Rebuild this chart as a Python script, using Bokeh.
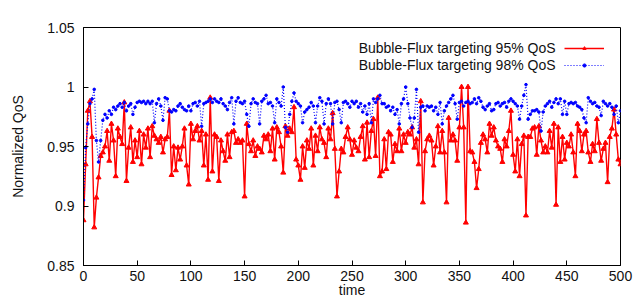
from bokeh.plotting import figure
from bokeh.models import (Range1d, FixedTicker, CustomJSTickFormatter, Legend,
                          LegendItem, Label)
from bokeh.embed import file_html
from bokeh.resources import INLINE

# ---- data ----
time = list(range(0, 501, 2))

qos95 = [
    0.888, 0.935, 0.980, 0.988, 0.958, 0.882, 0.907, 0.924, 0.942, 0.945,
    0.950, 0.963, 0.938, 0.969, 0.955, 0.925, 0.965, 0.958, 0.952, 0.987,
    0.921, 0.949, 0.966, 0.937, 0.955, 0.941, 0.963, 0.935, 0.960, 0.949,
    0.965, 0.941, 0.967, 0.959, 0.956, 0.953, 0.958, 0.945, 0.956, 0.958,
    0.980, 0.926, 0.950,
    0.930, 0.949, 0.939, 0.950, 0.965, 0.934, 0.918, 0.969, 0.956, 0.963,
    0.967, 0.955, 0.963, 0.934, 0.960, 0.922, 0.991, 0.929, 0.960, 0.958,
    0.921, 0.955, 0.946, 0.938, 0.960, 0.941, 0.962, 0.963, 0.953, 0.956,
    0.953, 0.955, 0.908, 0.969, 0.952, 0.946, 0.955, 0.942, 0.950, 0.948,
    0.945, 0.959,
    0.956, 0.960, 0.946, 0.965, 0.939, 0.966, 0.962, 0.950, 0.928, 0.967,
    0.959, 0.965, 0.962, 0.983, 0.939, 0.934, 0.922, 0.950, 0.932, 0.955,
    0.948, 0.965, 0.934, 0.959, 0.946, 0.966, 0.956, 0.953, 0.941, 0.965,
    0.956, 0.978, 0.948, 0.908, 0.929, 0.948, 0.945, 0.958, 0.966, 0.956,
    0.943,
    0.955, 0.949, 0.946, 0.958, 0.967, 0.939, 0.970, 0.941, 0.963, 0.973,
    0.942, 0.991, 0.925, 0.929, 0.956, 0.931, 0.962, 0.960, 0.937, 0.952,
    0.946, 0.965, 0.946, 0.960, 0.953, 0.962, 0.960, 0.966, 0.949, 0.956,
    0.935, 0.988, 0.903, 0.946, 0.956, 0.959, 0.955, 0.934, 0.950, 0.967,
    0.945, 0.963,
    0.945, 0.903, 0.974, 0.955, 0.960, 0.955, 0.938, 0.966, 1.000, 0.966,
    0.886, 1.000, 0.946, 0.945, 0.937, 0.915, 0.931, 0.953, 0.960, 0.956,
    0.945, 0.969, 0.959, 0.966, 0.955, 0.950, 0.948, 0.937, 0.956, 0.950,
    0.963, 0.980, 0.943, 0.929, 0.956, 0.925, 0.952, 0.959, 0.892, 0.958,
    0.958, 0.965,
    0.966, 0.943, 0.967, 0.955, 0.945, 0.950, 0.945, 0.963, 0.949, 0.969,
    0.901, 0.966, 0.937, 0.958, 0.939, 0.953, 0.950, 0.960, 0.945, 0.925,
    0.969, 0.963, 0.946, 0.960, 0.963, 0.945, 0.937, 0.952, 0.946, 0.973,
    0.953, 0.938, 0.948, 0.953, 0.920, 0.958, 0.965, 0.981, 0.960, 0.939,
    0.935,
]

qos98 = [
    0.905, 0.949, 0.969, 0.986, 0.990, 0.998, 0.955, 0.937, 0.955, 0.972,
    0.977, 0.974, 0.980, 0.977, 0.983, 0.981, 0.984, 0.986, 0.983, 0.987,
    0.980, 0.984, 0.986, 0.977, 0.983, 0.987, 0.988, 0.987, 0.988, 0.986,
    0.988, 0.986, 0.988, 0.970, 0.986, 0.990, 0.984, 0.972, 0.991, 0.990,
    0.980, 0.979, 0.981,
    0.980, 0.984, 0.986, 0.983, 0.981, 0.980, 0.984, 0.980, 0.986, 0.987,
    0.984, 0.988, 0.967, 0.986, 0.987, 0.988, 0.990, 0.987, 0.990, 0.988,
    0.987, 0.990, 0.986, 0.984, 0.981, 0.987, 0.991, 0.969, 0.988, 0.991,
    0.987, 0.986, 0.988, 0.977, 0.967, 0.986, 0.990, 0.987, 0.986, 0.969,
    0.988, 0.990,
    0.993, 0.986, 0.987, 0.984, 0.970, 0.990, 0.987, 0.984, 1.000, 0.966,
    0.962, 0.977, 0.988, 0.995, 0.988, 0.986, 0.984, 0.970, 0.979, 0.981,
    0.983, 0.987, 0.984, 0.970, 0.984, 0.991, 0.988, 0.969, 0.986, 0.990,
    0.986, 0.969, 0.987, 0.988, 0.981, 0.970, 0.987, 0.988, 0.986, 0.983,
    0.988,
    0.986, 0.988, 0.983, 0.986, 0.979, 0.984, 0.977, 0.986, 0.970, 0.990,
    0.987, 0.990, 0.993, 0.986, 0.986, 0.983, 0.984, 0.980, 0.983, 0.977,
    0.981, 0.969, 0.986, 0.990, 1.000, 0.986, 0.974, 0.966, 0.974, 0.998,
    0.962, 0.983, 0.984, 0.980, 0.984, 0.983, 0.984, 0.980, 0.983, 0.977,
    0.987, 0.969,
    0.980, 0.984, 0.987, 0.990, 0.993, 0.986, 0.973, 0.987, 0.988, 0.984,
    0.987, 0.988, 0.986, 0.987, 0.990, 0.986, 0.991, 0.988, 0.983, 0.981,
    0.984, 0.986, 0.980, 0.981, 0.986, 0.987, 0.984, 0.986, 0.987, 0.983,
    0.988, 0.990, 0.988, 0.986, 0.984, 0.973, 0.984, 0.993, 1.002, 0.973,
    0.977, 0.980,
    0.980, 0.981, 0.979, 0.963, 0.979, 0.984, 0.986, 0.988, 0.983, 0.987,
    0.990, 0.986, 0.990, 0.977, 0.988, 0.977, 0.986, 0.987, 0.986, 0.987,
    0.984, 0.983, 0.981, 0.974, 0.970, 0.991, 0.988, 0.986, 0.987, 0.984,
    0.983, 0.976, 0.988, 0.986, 0.984, 0.986, 0.983, 0.977, 0.984, 0.970,
    0.980,
]

x_ticks = [0, 50, 100, 150, 200, 250, 300, 350, 400, 450, 500]
y_ticks = [0.85, 0.9, 0.95, 1.0, 1.05]
series_labels = ["Bubble-Flux targeting 95% QoS", "Bubble-Flux targeting 98% QoS"]

FONT = "Liberation Sans"

p = figure(width=633, height=303, output_backend="svg", toolbar_location=None,
           x_range=Range1d(0, 500), y_range=Range1d(0.85, 1.05),
           min_border_left=83, min_border_right=13, min_border_top=27,
           min_border_bottom=38)

p.background_fill_color = "white"
p.border_fill_color = "white"
p.outline_line_color = "black"
p.outline_line_width = 1
p.xgrid.visible = False
p.ygrid.visible = False

for ax in (p.xaxis[0], p.yaxis[0]):
    ax.axis_line_color = "black"
    ax.major_tick_in = 5
    ax.major_tick_out = 0
    ax.minor_tick_line_color = None
    ax.major_tick_line_color = "black"
    ax.major_label_text_font = FONT
    ax.major_label_text_font_size = "14px"
    ax.major_label_text_color = "#111111"
    ax.axis_label_text_font = FONT
    ax.axis_label_text_font_size = "14px"
    ax.axis_label_text_font_style = "normal"
    ax.axis_label_text_color = "#111111"

p.xaxis[0].ticker = FixedTicker(ticks=x_ticks)
p.xaxis[0].axis_label = "time"
p.xaxis[0].major_label_standoff = 5
p.xaxis[0].axis_label_standoff = -2

p.yaxis[0].ticker = FixedTicker(ticks=y_ticks)
p.yaxis[0].formatter = CustomJSTickFormatter(code="return String(Math.round(tick*100)/100);")
p.yaxis[0].axis_label = "Normalized QoS"
p.yaxis[0].major_label_standoff = 9
p.yaxis[0].axis_label_standoff = 18

r1l = p.line(time, qos95, line_color="#ff0000", line_width=1.4)
r1m = p.scatter(time, qos95, marker="triangle", size=5,
                fill_color="#ff0000", line_color="#ff0000")
r2l = p.line(time, qos98, line_color="#0000ff", line_width=1.2, line_dash="1 2")
r2m = p.scatter(time, qos98, marker="circle", size=2.6,
                fill_color="#0000ff", line_color="#0000ff")

legend = Legend(items=[LegendItem(label=" ", renderers=[r1l, r1m]),
                       LegendItem(label=" ", renderers=[r2l, r2m])],
                location="top_right", margin=12, padding=0, spacing=0,
                glyph_width=40, glyph_height=8, label_height=17,
                label_width=0, label_standoff=4,
                label_text_font_size="1px",
                border_line_color=None, background_fill_alpha=0)
p.add_layout(legend)

for lab, yv in zip(series_labels, [1.0324, 1.0181]):
    p.add_layout(Label(x=439.5, y=yv, text=lab, text_align="right",
                       text_baseline="middle", text_font=FONT,
                       text_font_size="14px", text_color="#111111"))

open("out.html", "w").write(file_html(p, INLINE))
